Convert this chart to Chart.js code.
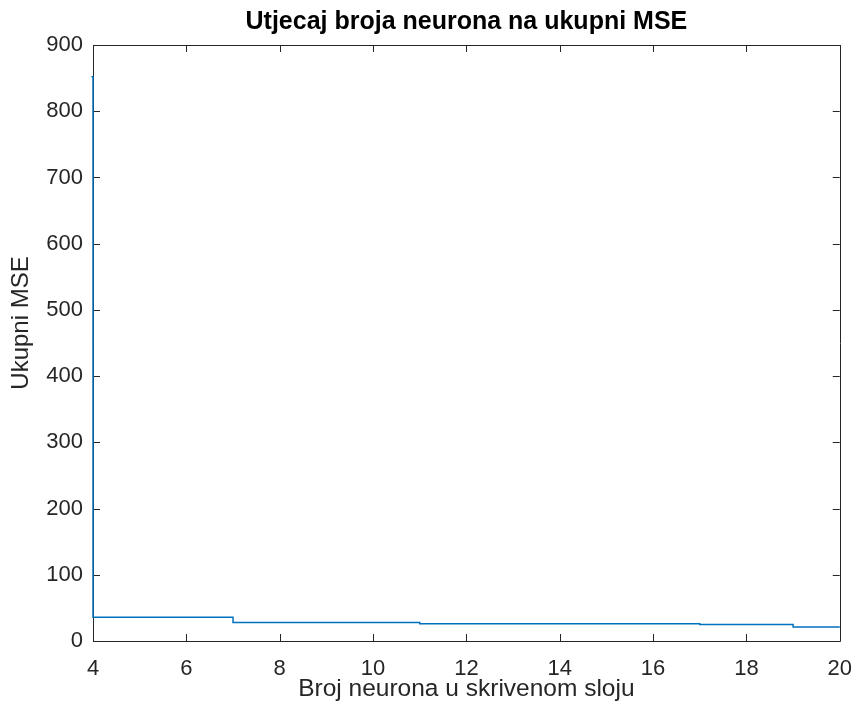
<!DOCTYPE html>
<html>
<head>
<meta charset="utf-8">
<title>Utjecaj broja neurona na ukupni MSE</title>
<script src="https://cdn.jsdelivr.net/npm/chart.js@4.4.1/dist/chart.umd.min.js"></script>
<style>
  html, body { margin: 0; padding: 0; background: #ffffff; }
  #wrap { width: 867px; height: 713px; }
</style>
</head>
<body>
<div id="wrap"><canvas id="chart" width="867" height="713"></canvas></div>
<script>
// Number of hidden-layer neurons and the resulting total MSE (stair plot)
const neurons = [3, 4, 5, 6, 7, 8, 9, 10, 11, 12, 13, 14, 15, 16, 17, 18, 19, 20];
const totalMSE = [852, 36, 36, 36, 28, 28, 28, 28, 26, 26, 26, 26, 26, 26, 25, 25, 21, 21];
const xTicks = [4, 6, 8, 10, 12, 14, 16, 18, 20];
const yTicks = [0, 100, 200, 300, 400, 500, 600, 700, 800, 900];
const chartTitle = 'Utjecaj broja neurona na ukupni MSE';
const yAxisTitle = 'Ukupni MSE';

const AXIS_COLOR = '#262626';
const LINE_COLOR = '#0072BD';
const FONT = '"Liberation Sans", Arial, Helvetica, sans-serif';

// Axes box with inward tick marks on all four sides, the chart title and the y-axis label
const boxAxes = {
  id: 'boxAxes',
  beforeDatasetsDraw(chart) {
    const { ctx, chartArea: a, scales } = chart;
    const len = 7;
    ctx.save();
    ctx.strokeStyle = AXIS_COLOR;
    ctx.lineWidth = 1;
    ctx.beginPath();
    ctx.rect(Math.round(a.left) + 0.5, Math.round(a.top) + 0.5,
             Math.round(a.right - a.left), Math.round(a.bottom - a.top));
    xTicks.forEach(v => {
      const x = Math.round(scales.x.getPixelForValue(v)) + 0.5;
      ctx.moveTo(x, a.bottom); ctx.lineTo(x, a.bottom - len);
      ctx.moveTo(x, a.top); ctx.lineTo(x, a.top + len);
    });
    yTicks.forEach(v => {
      const y = Math.round(scales.y.getPixelForValue(v)) + 0.5;
      ctx.moveTo(a.left, y); ctx.lineTo(a.left + len, y);
      ctx.moveTo(a.right, y); ctx.lineTo(a.right - len, y);
    });
    ctx.stroke();

    ctx.textAlign = 'center';
    ctx.textBaseline = 'middle';

    ctx.fillStyle = '#000000';
    ctx.font = 'bold 25px ' + FONT;
    ctx.fillText(chartTitle, (a.left + a.right) / 2, 22);

    ctx.fillStyle = AXIS_COLOR;
    ctx.font = '24px ' + FONT;
    ctx.translate(21, (a.top + a.bottom) / 2 - 20);
    ctx.rotate(-Math.PI / 2);
    ctx.fillText(yAxisTitle, 0, 0);
    ctx.restore();
  }
};

new Chart(document.getElementById('chart'), {
  type: 'line',
  data: {
    datasets: [{
      data: neurons.map((n, i) => ({ x: n, y: totalMSE[i] })),
      borderColor: LINE_COLOR,
      borderWidth: 1.5,
      pointRadius: 0,
      stepped: 'before',
      fill: false,
      tension: 0,
      clip: { left: 1.5, right: 1, top: 0, bottom: 1 }
    }]
  },
  options: {
    responsive: false,
    animation: false,
    devicePixelRatio: 1,
    layout: { padding: { top: 45, left: 0, right: 0, bottom: 0 } },
    plugins: {
      legend: { display: false },
      tooltip: { enabled: false },
      title: { display: false }
    },
    scales: {
      x: {
        type: 'linear',
        min: 4,
        max: 20,
        afterBuildTicks(scale) { scale.ticks = xTicks.map(v => ({ value: v })); },
        afterFit(scale) { scale.height = 72; },
        grid: { display: false, drawTicks: false },
        border: { display: false },
        ticks: {
          color: AXIS_COLOR,
          padding: 15,
          maxRotation: 0,
          font: { family: FONT, size: 22 }
        },
        title: {
          display: true,
          text: 'Broj neurona u skrivenom sloju',
          color: AXIS_COLOR,
          font: { family: FONT, size: 24.5, lineHeight: 1.2 },
          padding: { top: 0, bottom: 9 }
        }
      },
      y: {
        type: 'linear',
        min: 0,
        max: 900,
        afterBuildTicks(scale) { scale.ticks = yTicks.map(v => ({ value: v })); },
        afterFit(scale) { scale.width = 93; },
        grid: { display: false, drawTicks: false },
        border: { display: false },
        ticks: {
          color: AXIS_COLOR,
          padding: 10,
          font: { family: FONT, size: 22 }
        },
        title: { display: false }
      }
    }
  },
  plugins: [boxAxes]
});
</script>
</body>
</html>
